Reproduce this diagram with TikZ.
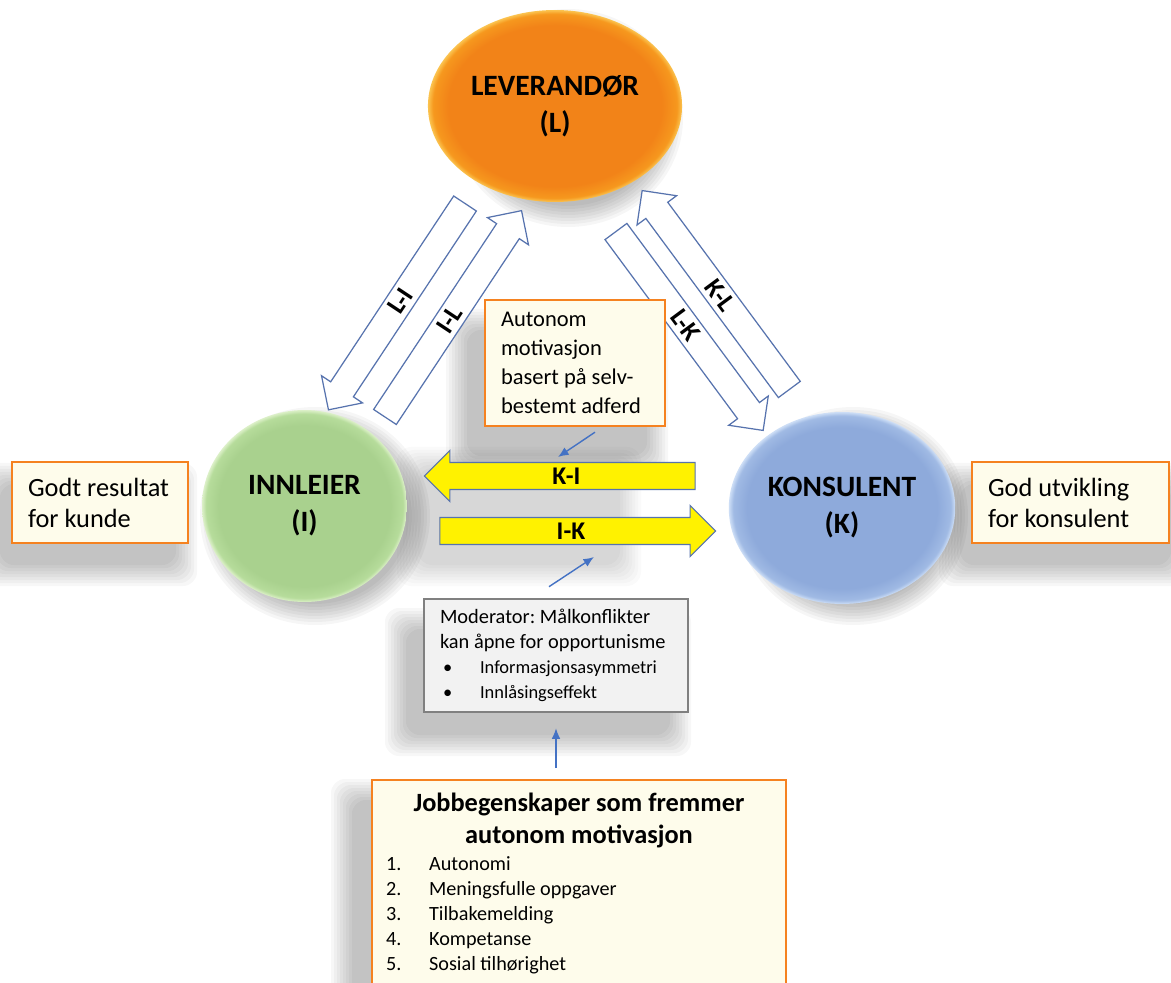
\documentclass[tikz,border=0pt]{standalone}
\usepackage{fontspec}
\setmainfont{Carlito}
\usepackage{xcolor}
\usetikzlibrary{positioning,shapes.geometric,shapes.arrows,arrows.meta}
\frenchspacing

\definecolor{levorange}{RGB}{242,131,24}
\definecolor{levedge}{RGB}{246,152,30}
\definecolor{levrim}{RGB}{251,196,80}
\definecolor{inngreen}{RGB}{169,209,142}
\definecolor{innedge}{RGB}{182,220,155}
\definecolor{innrim}{RGB}{220,240,200}
\definecolor{konsblue}{RGB}{142,170,219}
\definecolor{konsedge}{RGB}{160,186,228}
\definecolor{konsrim}{RGB}{205,222,246}
\definecolor{boxorange}{RGB}{245,130,32}
\definecolor{boxcream}{RGB}{254,252,235}
\definecolor{outlineblue}{RGB}{87,115,174}
\definecolor{pointerblue}{RGB}{68,114,196}

\pgfdeclareradialshading{levshade}{\pgfpointorigin}{color(0bp)=(levorange); color(21bp)=(levorange); color(24bp)=(levedge); color(25bp)=(levrim); color(50bp)=(levrim)}
\pgfdeclareradialshading{innshade}{\pgfpointorigin}{color(0bp)=(inngreen); color(21bp)=(inngreen); color(24bp)=(innedge); color(25bp)=(innrim); color(50bp)=(innrim)}
\pgfdeclareradialshading{konshade}{\pgfpointorigin}{color(0bp)=(konsblue); color(21bp)=(konsblue); color(24bp)=(konsedge); color(25bp)=(konsrim); color(50bp)=(konsrim)}

\tikzset{
  party/.style={ellipse, minimum width=4.1cm, minimum height=3.84cm, align=center,
    font=\fontsize{16.8}{21}\selectfont\bfseries},
  notebox/.style={draw=boxorange, fill=boxcream, line width=1.4pt, align=flush left,
    inner xsep=0.32cm, inner ysep=0pt},
  modbox/.style={draw=black!50, fill=black!5, line width=1.5pt, align=flush left,
    inner xsep=0.32cm, inner ysep=0pt, font=\fontsize{11.6}{14.2}\selectfont},
  flowarrow/.style={single arrow, draw=outlineblue, fill=white, line width=0.7pt,
    minimum height=4.95cm, single arrow head extend=0.22cm, single arrow tip angle=90,
    inner sep=0pt, text height=0.43cm, text depth=0.09cm,
    font=\fontsize{15}{15}\selectfont\bfseries},
  kiarrow/.style={single arrow, draw=outlineblue, fill=yellow, line width=0.6pt,
    single arrow head extend=0.24cm, single arrow tip angle=90,
    inner sep=0pt, text height=0.425cm, text depth=0.095cm,
    font=\fontsize{14.5}{14.5}\selectfont\bfseries},
  pointer/.style={draw=pointerblue, line width=0.8pt, -{Latex[length=6pt,width=5pt]}}
}

\begin{document}
\begin{tikzpicture}[x=0.02cm,y=-0.02cm]
\fill[white] (0,0) rectangle (1171,983);
\useasboundingbox (0,0) rectangle (1171,983);
\clip (0,0) rectangle (1171,983);
% Soft shadows
\foreach \cx/\cy in {568/118, 315/516, 853/516}
  \foreach \s in {0,...,7}
    \fill[black,opacity=0.035] (\cx,\cy) ellipse [x radius=94+\s*3, y radius=88+\s*3];
\foreach \xa/\ya/\xb/\yb in {0/484/176/565, 960/484/1171/565, 467/330/647/456, 406/629/670/735, 352/800/766/1000}
  \foreach \s in {0,...,7}
    \fill[black,opacity=0.03,rounded corners=8pt] (\xa-\s*3,\ya-\s*3) rectangle (\xb+\s*3,\yb+\s*3);
\foreach \s in {0,...,7}
  \fill[black,opacity=0.02,rounded corners=8pt] (418-\s*3,468-\s*3) rectangle (620+\s*3,565+\s*3);
% Parties
\node[party, shade, shading=levshade] (lev) at (555,106) {LEVERANDØR\\(L)};
\node[party, shade, shading=innshade] (inn) at (304.5,506) {INNLEIER\\(I)};
\node[party, shade, shading=konshade] (kons) at (842,508) {KONSULENT\\(K)};
% Outcomes
\node[notebox, text width=2.88cm, minimum height=1.62cm, font=\fontsize{15}{17.6}\selectfont] (kunde) at (100,502.5) {Godt resultat\\for kunde};
\node[notebox, text width=3.3cm, minimum height=1.62cm, font=\fontsize{15}{17.6}\selectfont] (utvikling) at (1070.5,502.5) {God utvikling\\for konsulent};
% Relations via the supplier
\foreach \name/\x/\y/\ang/\flip/\lab in {LI/400.5/301/56.5/180/L-I, IL/449.5/319.5/56.5/0/I-L, LK/685.5/325.5/-53.5/0/L-K, KL/719.8/295.5/-53.5/180/K-L}
  \node[flowarrow, rotate=\ang, shape border rotate=\flip] (\name) at (\x,\y) {\lab};
\node[notebox, text width=2.96cm, minimum height=2.52cm, font=\fontsize{12.8}{16.4}\selectfont] (auto) at (575,363) {Autonom\\motivasjon\\basert på selv-\\bestemt adferd};
% Direct relation
\node[kiarrow, minimum height=5.42cm, shape border rotate=180] (KI) at (566.5,476) {K-I};
\node[kiarrow, minimum height=5.52cm] (IK) at (571,531) {I-K};
% Moderator and job properties
\node[modbox, text width=4.64cm, minimum height=2.26cm] (mod) at (556,655.5) {Moderator: Målkonflikter\\kan åpne for opportunisme\\
  {\fontsize{10.5}{13}\selectfont\hspace{0.06cm}\makebox[0.74cm][l]{\textbullet}Informasjonsasymmetri}\\
  {\fontsize{10.5}{13}\selectfont\hspace{0.06cm}\makebox[0.74cm][l]{\textbullet}Innlåsingseffekt}};
\node[notebox, minimum width=8.28cm, minimum height=4.6cm, anchor=north] (jobbe) at (579,779) {};
\node[below=0.28cm of jobbe.north, inner sep=0pt, align=center, font=\fontsize{15}{18}\selectfont\bfseries] (jobbetitle) {Jobbegenskaper som fremmer\\autonom motivasjon};
\node[below right=1.55cm and 0.3cm of jobbe.north west, inner sep=0pt, align=left, font=\fontsize{11.5}{14.2}\selectfont] (jobbelist)
  {\makebox[0.86cm][l]{1.}Autonomi\\\makebox[0.86cm][l]{2.}Meningsfulle oppgaver\\\makebox[0.86cm][l]{3.}Tilbakemelding\\\makebox[0.86cm][l]{4.}Kompetanse\\\makebox[0.86cm][l]{5.}Sosial tilhørighet};
% Pointers
\coordinate (KIpin) at (558,457);
\coordinate (IKpin) at (594,557);
\draw[pointer] ([xshift=0.4cm,yshift=-0.1cm]auto.south) -- (KIpin);
\draw[pointer] ([xshift=-0.14cm,yshift=0.22cm]mod.north) -- (IKpin);
\draw[pointer, shorten <=0.22cm, shorten >=0.3cm] (mod.south |- jobbe.north) -- (mod.south);
\end{tikzpicture}
\end{document}
